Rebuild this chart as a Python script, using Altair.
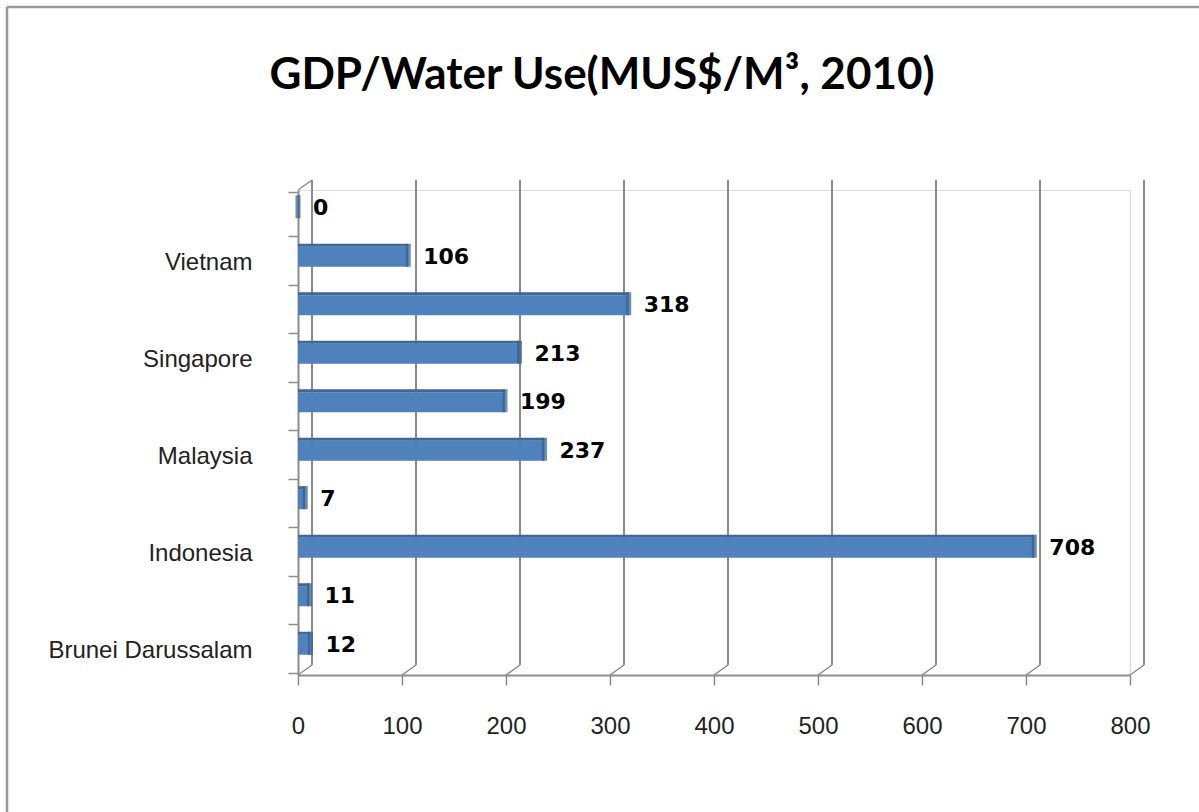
import altair as alt
import pandas as pd

# ---- data ----
countries = ["Brunei Darussalam", "Cambodia", "Indonesia", "Lao PDR", "Malaysia",
             "Philippines", "Singapore", "Thailand", "Vietnam", "Myanmar"]
values = [12, 11, 708, 7, 237, 199, 213, 318, 106, 0]
shown_labels = ["Brunei Darussalam", "Indonesia", "Malaysia", "Singapore", "Vietnam"]
x_ticks = [0, 100, 200, 300, 400, 500, 600, 700, 800]
title_text = ["GDP/Water Use(MUS$/M³, 2010)"]

df = pd.DataFrame({"country": countries, "value": values})
ticks_df = pd.DataFrame({"tick": x_ticks})
title_df = pd.DataFrame({"t": title_text})

W, H = 832, 485
DX, DY = 14, -10  # 3-D depth offset
GRID = "#8c8c8c"

y_sort = countries[::-1]
label_expr = "indexof(" + str(shown_labels).replace('"', "'") + ", datum.value) >= 0 ? datum.label : ''"

x_scale = alt.Scale(domain=[0, 800], nice=False)
y_enc = alt.Y("country:N", sort=y_sort, title=None,
              axis=alt.Axis(labelExpr=label_expr, tickBand="extent", tickSize=10,
                            tickColor=GRID, tickWidth=1.5, domainColor=GRID, domainWidth=2,
                            labelFont="Liberation Sans", labelFontSize=24, labelColor="#222222",
                            labelPadding=36, labelLimit=400, labelFontWeight="normal"))
x_axis = alt.Axis(values=x_ticks, grid=False, tickSize=10, tickColor=GRID, tickWidth=1.5,
                  domainColor=GRID, domainWidth=2, labelFont="Liberation Sans",
                  labelFontSize=24, labelColor="#222222", labelPadding=29, labelFlush=False,
                  title=None)

base_ticks = alt.Chart(ticks_df)

# back-wall vertical gridlines
grid = base_ticks.mark_rule(color=GRID, strokeWidth=2, xOffset=DX, yOffset=DY, y2Offset=DY).encode(
    x=alt.X("tick:Q", scale=x_scale, axis=x_axis),
    y=alt.value(0), y2=alt.value(H))
# floor diagonals
diag = base_ticks.mark_rule(color=GRID, strokeWidth=1.5, x2Offset=DX, y2Offset=DY).encode(
    x=alt.X("tick:Q", scale=x_scale), x2="tick:Q",
    y=alt.value(H), y2=alt.value(H))
# top-left diagonal of side wall
top_diag = alt.Chart(ticks_df.head(1)).mark_rule(color=GRID, strokeWidth=1.5, x2Offset=DX, y2Offset=DY).encode(
    x=alt.X("tick:Q", scale=x_scale), x2="tick:Q",
    y=alt.value(0), y2=alt.value(0))

base = alt.Chart(df)
bars = base.mark_bar(height=20, yOffset=-6, color="#4F81BD").encode(
    y=y_enc, x=alt.X("value:Q", scale=x_scale, axis=x_axis))
top_face = base.mark_bar(height=3, yOffset=-17.5, color="#3F6899").encode(
    y=alt.Y("country:N", sort=y_sort), x=alt.X("value:Q", scale=x_scale))
caps = base.mark_tick(orient="vertical", thickness=5, size=23, yOffset=-7.5, color="#385D8A").encode(
    y=alt.Y("country:N", sort=y_sort), x=alt.X("value:Q", scale=x_scale))
labels = base.mark_text(align="left", baseline="middle", dx=15, dy=-6, font="DejaVu Sans",
                        fontWeight="bold", fontSize=22, color="#000000").encode(
    y=alt.Y("country:N", sort=y_sort), x=alt.X("value:Q", scale=x_scale), text="value:Q")

# chart title
title = alt.Chart(title_df).mark_text(font="Lato", fontSize=44, fontWeight="bold", color="#000000",
                                      align="center", baseline="middle").encode(
    text="t:N", x=alt.value(304), y=alt.value(-114))

# outer chart frame (top and left edges)
frame_top = alt.Chart(ticks_df.head(1)).mark_rule(color="#999999", strokeWidth=2.5).encode(
    x=alt.value(-291), x2=alt.value(901), y=alt.value(-183))
frame_left = alt.Chart(ticks_df.head(1)).mark_rule(color="#999999", strokeWidth=2.5).encode(
    x=alt.value(-291), y=alt.value(-183), y2=alt.value(622))

chart = alt.layer(frame_top, frame_left, title, grid, diag, top_diag, bars, top_face, caps, labels).properties(
    width=W, height=H,
    autosize=alt.AutoSizeParams(type="none"),
    padding={"left": 298, "top": 190, "right": 69, "bottom": 137},
).configure_view(stroke=None).configure(background="white")

chart.save("out.html", embed_options={"renderer": "svg", "actions": False})
